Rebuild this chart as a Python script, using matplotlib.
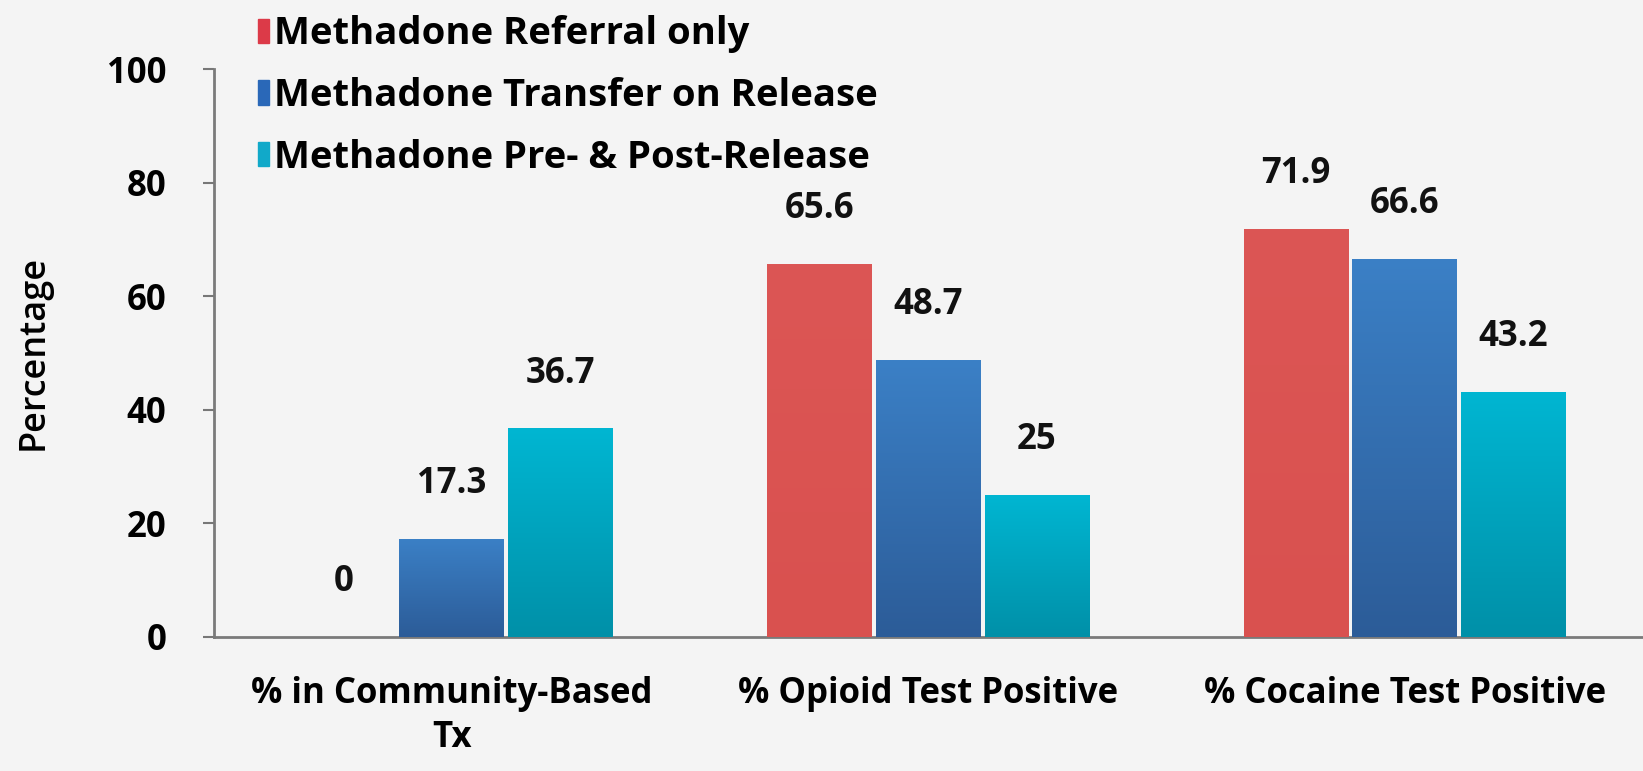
import matplotlib
matplotlib.use("Agg")
import matplotlib.pyplot as plt
import numpy as np
from matplotlib.colors import LinearSegmentedColormap

plt.rcParams['font.family'] = ['Open Sans', 'DejaVu Sans']

# outcomes by treatment arm
categories = ["% in Community-Based\nTx", "% Opioid Test Positive", "% Cocaine Test Positive"]
series_names = ["Methadone Referral only",
                "Methadone Transfer on Release",
                "Methadone Pre- & Post-Release"]
referral_only = [0, 65.6, 71.9]
transfer_on_release = [17.3, 48.7, 66.6]
pre_post_release = [36.7, 25, 43.2]
yticks = [0, 20, 40, 60, 80, 100]

series = [referral_only, transfer_on_release, pre_post_release]
# (top colour, bottom colour) for each series
shades = [("#dc5655", "#d9514f"),
          ("#3b80c6", "#2c5c98"),
          ("#00b6d2", "#0090a8")]
legend_colors = ["#dc3a48", "#2a68b8", "#11a9c9"]

bg = "#f4f4f4"
fig = plt.figure(figsize=(16.43, 7.71), dpi=100, facecolor=bg)
ax = fig.add_axes([0.13, 0.174, 0.87, 0.7365])
ax.set_facecolor(bg)

x = np.arange(len(categories))
width = 0.22
gap = 0.008
for i, (vals, (top, bot)) in enumerate(zip(series, shades)):
    pos = x + (i - 1) * (width + gap)
    bars = ax.bar(pos, vals, width, color=top, zorder=2)
    cmap = LinearSegmentedColormap.from_list("g%d" % i, [bot, top])
    for b, v in zip(bars, vals):
        if v > 0:
            grad = np.linspace(0, 1, 256).reshape(-1, 1)
            im = ax.imshow(grad, cmap=cmap, origin="lower", aspect="auto",
                           extent=[b.get_x(), b.get_x() + b.get_width(), 0, v],
                           zorder=3)
            im.set_clip_path(b)
        ax.text(b.get_x() + b.get_width() / 2, v + 6.5, f"{v:g}",
                ha="center", va="bottom", fontsize=25, fontweight="bold",
                color="#111111")

ax.set_xlim(-0.5, len(categories) - 0.5)
ax.set_ylim(0, 100)
ax.set_yticks(yticks)
ax.set_yticklabels([str(t) for t in yticks], fontsize=25, fontweight="bold")
ax.set_xticks(x)
ax.set_xticklabels(categories, fontsize=25, fontweight="bold", linespacing=1.3)
ax.tick_params(axis="x", length=0, pad=28)
ax.tick_params(axis="y", length=8, width=1.5, color="#777777", pad=26)
ax.set_ylabel("Percentage", fontsize=26, fontweight="semibold", labelpad=40)
for s in ["top", "right"]:
    ax.spines[s].set_visible(False)
for s in ["left", "bottom"]:
    ax.spines[s].set_color("#7a7a7a")
    ax.spines[s].set_linewidth(2)

handles = [plt.Rectangle((0, 0), 1, 1, color=c) for c in legend_colors]
fig.legend(handles, series_names, loc="upper left", bbox_to_anchor=(0.148, 1.0),
           frameon=False, prop={"size": 27.5, "weight": "bold"},
           handlelength=0.28, handleheight=0.6, handletextpad=0.12,
           labelspacing=0.62, borderaxespad=0)

fig.savefig("out.png", dpi=100, facecolor=bg)
